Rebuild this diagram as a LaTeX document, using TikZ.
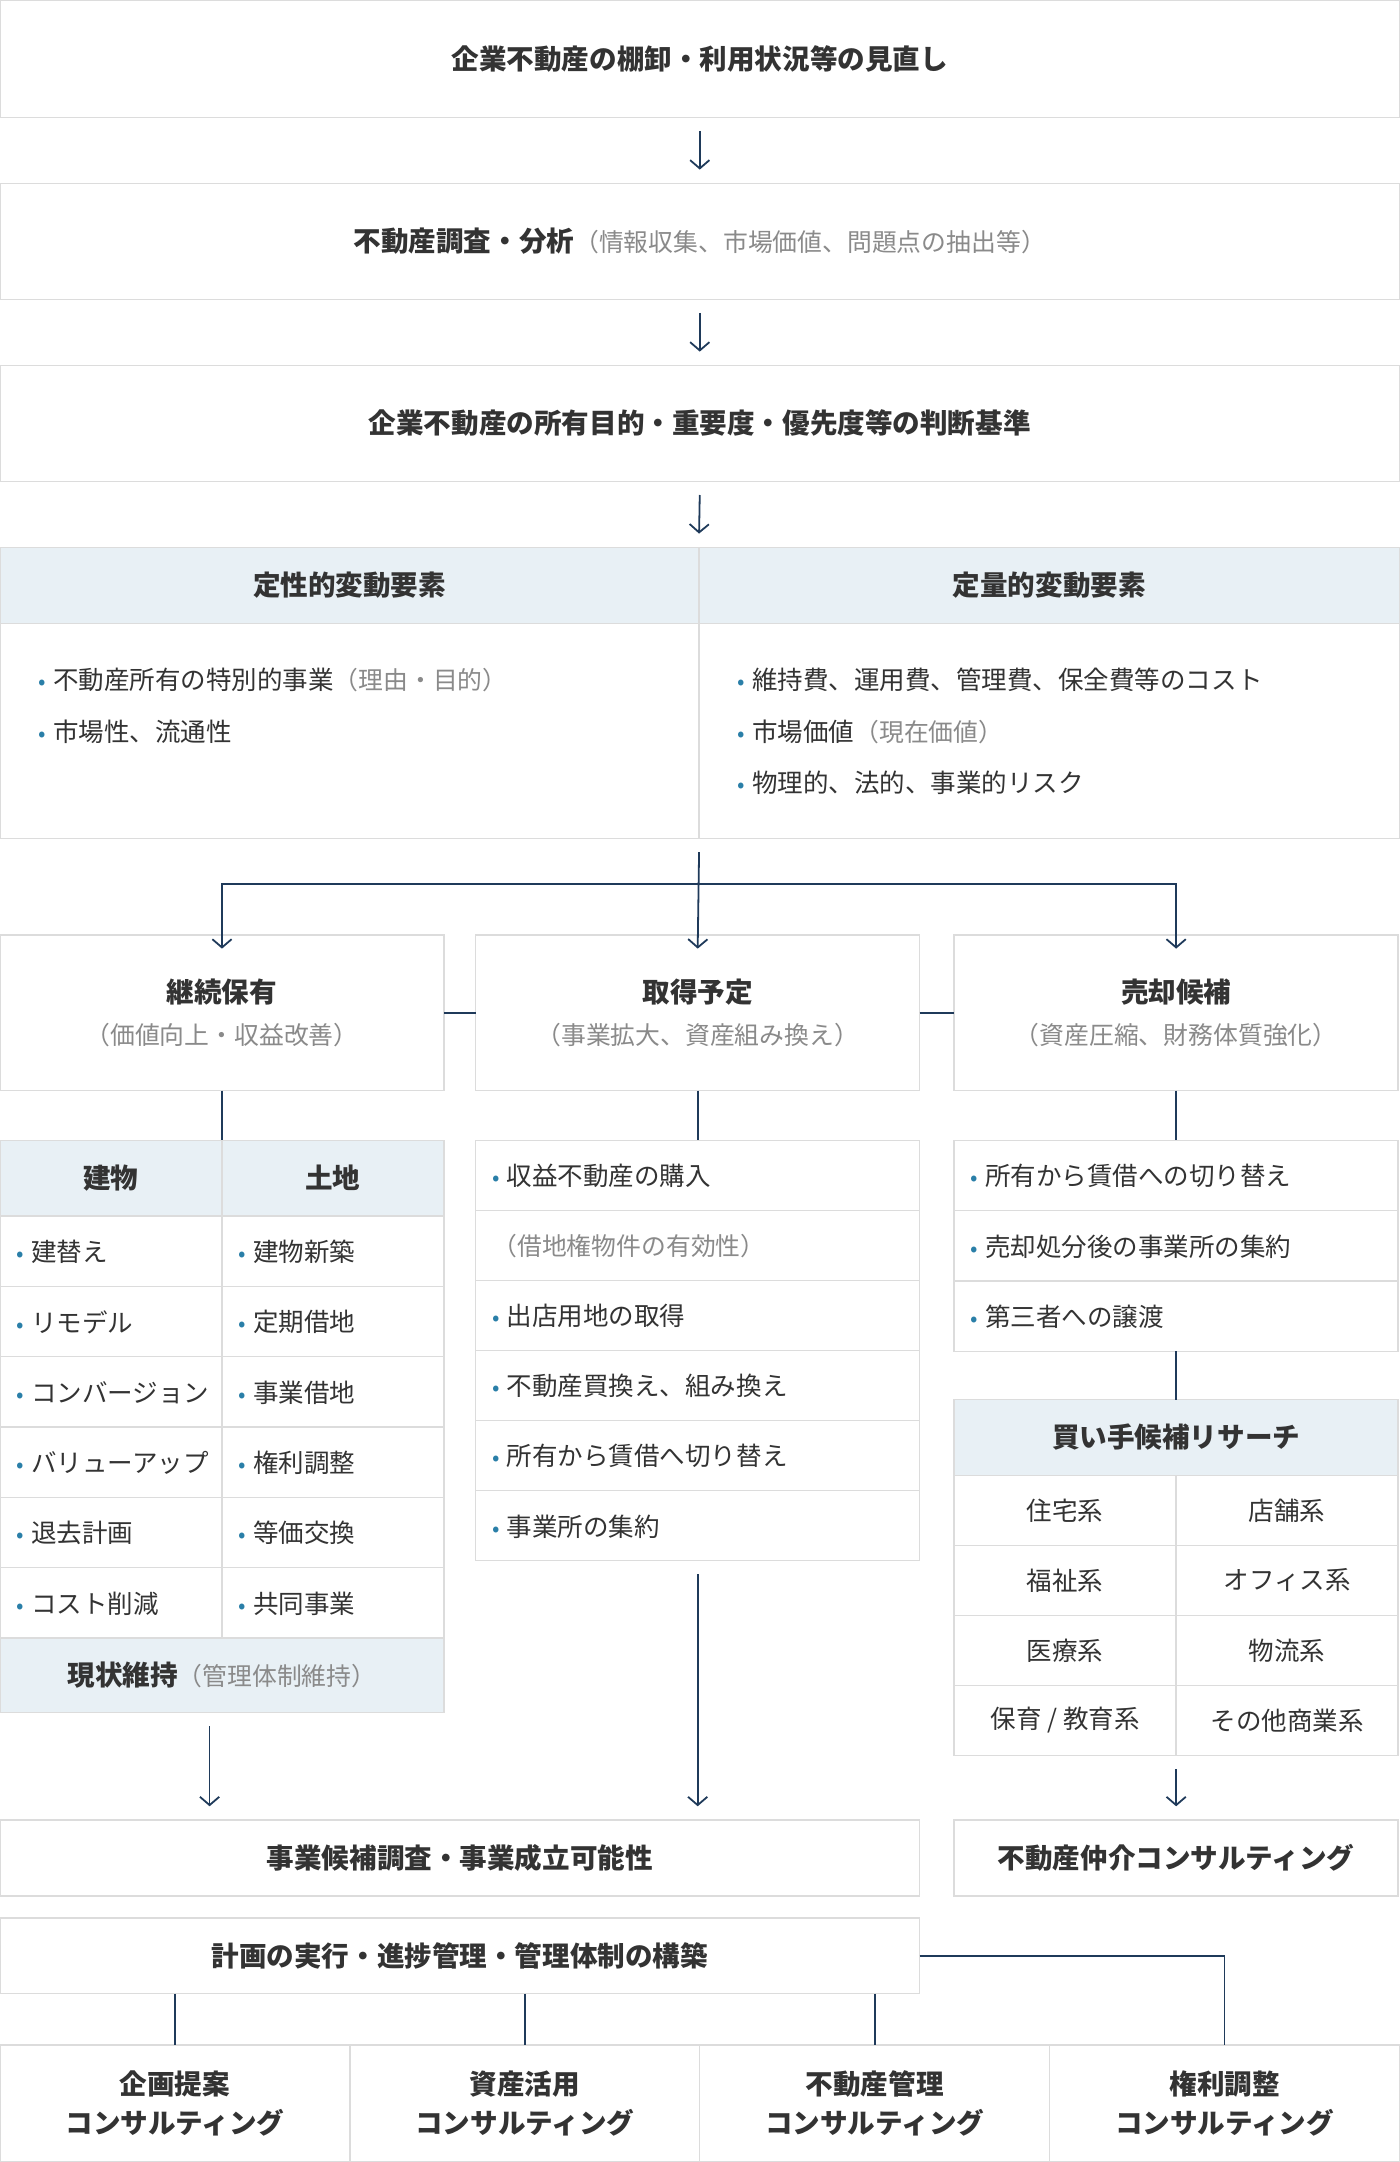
\documentclass[tikz,border=0pt]{standalone}
\usepackage{fontspec}
\setmainfont{Noto Sans CJK JP}
\usetikzlibrary{arrows.meta,positioning}
\definecolor{linec}{HTML}{1F3A5A}
\definecolor{edge}{HTML}{DCDCDC}
\definecolor{head}{HTML}{E8F0F5}
\definecolor{txt}{HTML}{333333}
\definecolor{note}{HTML}{8A8A8A}
\definecolor{dot}{HTML}{2A7FA8}
\tikzset{
  box/.style={draw=edge,line width=1pt,outer sep=0pt,inner sep=0pt},
  lbl/.style={text=txt,font=\fontsize{20}{24}\selectfont\bfseries,align=center},
  item/.style={text=txt,font=\fontsize{18.5}{22}\selectfont,anchor=west,inner sep=0pt},
  ln/.style={draw=linec,line width=1.3pt},
  arr/.style={ln,-{Straight Barb[length=6pt,width=14pt,line width=1.3pt]}},
}
\newcommand\cell[6]{\node[box,fill=#6,minimum width={(#4-#2)*1pt},minimum height={(#5-#3)*1pt},anchor=north west] (#1) at (#2,#3) {};}
\newcommand\gr[1]{{\mdseries\color{note}\fontsize{18}{21}\selectfont #1}}
\newcommand\bl{{\color{dot}\fontsize{16}{16}\selectfont•}\hspace{5pt}}
\begin{document}
\begin{tikzpicture}[x=1pt,y=-1pt]
    \useasboundingbox (0,0) rectangle (1015,1568);
    % top chain
    \cell{review}{0}{0}{1015}{85}{white}
    \node[lbl] at (review) {企業不動産の棚卸・利用状況等の見直し};
    \cell{survey}{0}{133}{1015}{217}{white}
    \node[lbl] at (survey) {不動産調査・分析\gr{（情報収集、市場価値、問題点の抽出等）}};
    \cell{criteria}{0}{265}{1015}{349}{white}
    \node[lbl] at (criteria) {企業不動産の所有目的・重要度・優先度等の判断基準};
    \draw[arr] ([yshift=-10pt]review.south) -- ([yshift=10pt]survey.north);
    \draw[arr] ([yshift=-10pt]survey.south) -- ([yshift=10pt]criteria.north);

    % factors
    \cell{qualh}{0}{397}{507}{452}{head}
    \cell{quanh}{507}{397}{1015}{452}{head}
    \cell{qualb}{0}{452}{507}{608}{white}
    \cell{quanb}{507}{452}{1015}{608}{white}
    \node[lbl] at (qualh) {定性的変動要素};
    \node[lbl] at (quanh) {定量的変動要素};
    \draw[arr] ([yshift=-10pt]criteria.south) -- ([yshift=10pt]quanh.north west);
    \node[item] at (28,493) {\bl 不動産所有の特別的事業\gr{（理由・目的）}};
    \node[item] at (28,531) {\bl 市場性、流通性};
    \node[item] at (535,493) {\bl 維持費、運用費、管理費、保全費等のコスト};
    \node[item] at (535,531) {\bl 市場価値\gr{（現在価値）}};
    \node[item] at (535,568) {\bl 物理的、法的、事業的リスク};

    % three options
    \cell{keep}{0}{678}{322}{791}{white}
    \cell{acq}{345}{678}{667}{791}{white}
    \cell{sell}{692}{678}{1014}{791}{white}
    \node[lbl] at (keep) {継続保有\\[6pt]\gr{（価値向上・収益改善）}};
    \node[lbl] at (acq) {取得予定\\[6pt]\gr{（事業拡大、資産組み換え）}};
    \node[lbl] at (sell) {売却候補\\[6pt]\gr{（資産圧縮、財務体質強化）}};
    \coordinate (split) at (507,618);
    \coordinate (branch) at (507,641);
    \draw[arr] (split) -- ([yshift=-10pt]acq.north);
    \draw[arr] (branch) -| ([yshift=-10pt]keep.north);
    \draw[arr] (branch) -| ([yshift=-10pt]sell.north);
    \draw[ln] (keep.east) -- (acq.west);
    \draw[ln] (acq.east) -- (sell.west);

    % keep table
    \cell{bldh}{0}{827}{161}{882}{head}
    \cell{landh}{161}{827}{322}{882}{head}
    \node[lbl] at (bldh) {建物};
    \node[lbl] at (landh) {土地};
    \foreach \a/\b [count=\i] in {建替え/建物新築,リモデル/定期借地,コンバージョン/事業借地,バリューアップ/権利調整,退去計画/等価交換,コスト削減/共同事業}{
      \pgfmathsetmacro\yt{882+51*(\i-1)}
      \cell{bl\i}{0}{\yt}{161}{\yt+51}{white}
      \cell{la\i}{161}{\yt}{322}{\yt+51}{white}
      \node[item] at (12,\yt+26) {\bl\a};
      \node[item] at (173,\yt+26) {\bl\b};
    }
    \cell{status}{0}{1188}{322}{1242}{head}
    \node[lbl] at (status) {現状維持\gr{（管理体制維持）}};
    \draw[ln] (keep.south) -- (keep.south |- bldh.north);

    % acquisition list
    \foreach \t [count=\i] in {{\bl 収益不動産の購入},{\gr{（借地権物件の有効性）}},{\bl 出店用地の取得},{\bl 不動産買換え、組み換え},{\bl 所有から賃借へ切り替え},{\bl 事業所の集約}}{
      \pgfmathsetmacro\yt{827+50.8*(\i-1)}
      \cell{ac\i}{345}{\yt}{667}{\yt+50.8}{white}
      \node[item] at (357,\yt+26) {\t};
    }
    \draw[ln] (acq.south) -- (ac1.north);

    % sale list
    \foreach \t [count=\i] in {所有から賃借への切り替え,売却処分後の事業所の集約,第三者への譲渡}{
      \pgfmathsetmacro\yt{827+51*(\i-1)}
      \cell{se\i}{692}{\yt}{1014}{\yt+51}{white}
      \node[item] at (704,\yt+26) {\bl\t};
    }
    \draw[ln] (sell.south) -- (se1.north);
    \cell{buyh}{692}{1015}{1014}{1070}{head}
    \node[lbl] at (buyh) {買い手候補リサーチ};
    \draw[ln] (se3.south) -- (buyh.north);
    \foreach \a/\b [count=\i] in {住宅系/店舗系,福祉系/オフィス系,医療系/物流系,{保育 / 教育系}/その他商業系}{
      \pgfmathsetmacro\yt{1070+50.8*(\i-1)}
      \cell{bu\i}{692}{\yt}{853}{\yt+50.8}{white}
      \cell{bv\i}{853}{\yt}{1014}{\yt+50.8}{white}
      \node[item,anchor=center] at (bu\i) {\a};
      \node[item,anchor=center] at (bv\i) {\b};
    }

    % results
    \cell{study}{0}{1320}{667}{1375}{white}
    \node[lbl] at (study) {事業候補調査・事業成立可能性};
    \cell{broker}{692}{1320}{1014}{1375}{white}
    \node[lbl] at (broker) {不動産仲介コンサルティング};
    \draw[arr] ([yshift=-10pt]status.south -| 152,0) -- ([yshift=10pt]study.north -| 152,0);
    \draw[arr] ([yshift=-10pt]ac6.south) -- ([yshift=10pt]ac6.south |- study.north);
    \draw[arr] ([yshift=-10pt]bu4.south east) -- ([yshift=10pt]broker.north);

    \cell{exec}{0}{1391}{667}{1446}{white}
    \node[lbl] at (exec) {計画の実行・進捗管理・管理体制の構築};
    \foreach \t [count=\i] in {企画提案,資産活用,不動産管理,権利調整}{
      \pgfmathsetmacro\xl{253.75*(\i-1)}
      \cell{cs\i}{\xl}{1483}{\xl+253.75}{1568}{white}
      \node[lbl] at (cs\i) {\t\\[4pt]コンサルティング};
    }
    \draw[ln] (exec.south -| cs1.north) -- (cs1.north);
    \draw[ln] (exec.south -| cs2.north) -- (cs2.north);
    \draw[ln] (exec.south -| cs3.north) -- (cs3.north);
    \draw[ln] (exec.east) -| (cs4.north);
\end{tikzpicture}
\end{document}
